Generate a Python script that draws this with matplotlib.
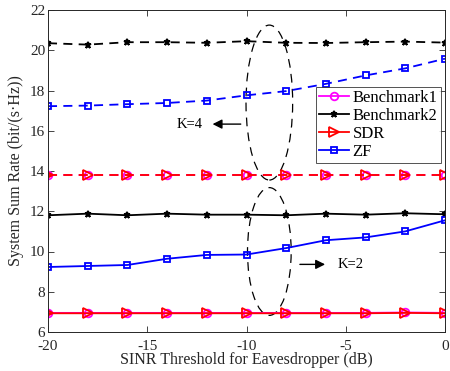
import numpy as np
import matplotlib
matplotlib.use("Agg")
import matplotlib.pyplot as plt
from matplotlib.patches import Ellipse

plt.rcParams['font.family'] = ['Liberation Serif', 'DejaVu Serif']

x = [-20, -18, -16, -14, -12, -10, -8, -6, -4, -2, 0]

# K=4 (dashed)
bench1_k4 = [13.8, 13.8, 13.8, 13.8, 13.8, 13.8, 13.8, 13.8, 13.8, 13.8, 13.8]
bench2_k4 = [20.35, 20.28, 20.4, 20.4, 20.37, 20.45, 20.37, 20.36, 20.4, 20.43, 20.38]
sdr_k4 = [13.8, 13.8, 13.8, 13.8, 13.8, 13.8, 13.8, 13.8, 13.8, 13.8, 13.8]
zf_k4 = [17.22, 17.25, 17.32, 17.38, 17.5, 17.76, 17.97, 18.33, 18.75, 19.1, 19.58]

# K=2 (solid)
bench1_k2 = [6.95, 6.95, 6.95, 6.95, 6.95, 6.95, 6.95, 6.95, 6.95, 6.97, 6.95]
bench2_k2 = [11.8, 11.88, 11.8, 11.88, 11.83, 11.83, 11.8, 11.88, 11.83, 11.9, 11.85]
sdr_k2 = [6.93, 6.93, 6.93, 6.93, 6.93, 6.93, 6.93, 6.93, 6.93, 6.95, 6.93]
zf_k2 = [9.23, 9.28, 9.33, 9.64, 9.83, 9.85, 10.17, 10.56, 10.7, 11.0, 11.55]

labels = ['Benchmark1', 'Benchmark2', 'SDR', 'ZF']
colors = ['#ff00ff', 'black', 'red', 'blue']
markers = ['o', '*', '>', 's']

fig = plt.figure(figsize=(4.5, 3.71), dpi=100)
ax = fig.add_axes([48/450, 1-332/371, 397/450, 322/371])

dash = (0, (5, 3.5))
lw = 1.3
ms = {'o': 5.5, '*': 5.0, '>': 6.5, 's': 5}

series_k4 = [bench1_k4, bench2_k4, sdr_k4, zf_k4]
series_k2 = [bench1_k2, bench2_k2, sdr_k2, zf_k2]

handles = []
for ys, c, m, lab in zip(series_k2, colors, markers, labels):
    mfc = c if m == '*' else 'none'
    h, = ax.plot(x, ys, color=c, marker=m, markersize=ms[m], markerfacecolor=mfc,
                 markeredgewidth=1.3, linewidth=lw, label=lab)
    handles.append(h)
for ys, c, m in zip(series_k4, colors, markers):
    mfc = c if m == '*' else 'none'
    ax.plot(x, ys, color=c, marker=m, markersize=ms[m], markerfacecolor=mfc,
            markeredgewidth=1.3, linewidth=lw, linestyle=dash)

ax.add_patch(Ellipse((-8.85, 17.4), 2.35, 7.7, fill=False, edgecolor='black',
                     linestyle=(0, (7, 5)), linewidth=0.9))
ax.add_patch(Ellipse((-8.85, 10.0), 2.2, 6.35, fill=False, edgecolor='black',
                     linestyle=(0, (7, 5)), linewidth=0.9))

ax.annotate('', xy=(-11.85, 16.33), xytext=(-10.15, 16.33),
            arrowprops=dict(arrowstyle='-|>', color='black', lw=1.0, mutation_scale=14))
ax.text(-12.85, 16.33, 'K=4', ha='center', va='center', fontsize=10.5)
ax.annotate('', xy=(-5.9, 9.36), xytext=(-7.45, 9.36),
            arrowprops=dict(arrowstyle='-|>', color='black', lw=1.0, mutation_scale=14))
ax.text(-5.4, 9.36, 'K=2', ha='left', va='center', fontsize=10.5)

ax.set_xlim(-20, 0)
ax.set_ylim(6, 22)
ax.set_xticks([-20, -15, -10, -5, 0])
ax.set_xticklabels(['-20', '-15', '-10', '-5', '0'])
ax.set_yticks(range(6, 23, 2))
ax.tick_params(direction='in', labelsize=11, top=True, right=True, length=4, width=0.6,
               colors='#262626')
ax.tick_params(axis='x', pad=6)
ax.tick_params(axis='y', pad=2)
for s in ax.spines.values():
    s.set_linewidth(0.7)
    s.set_color('#262626')

ax.set_xlabel('SINR Threshold for Eavesdropper (dB)', fontsize=11.5, color='#262626', labelpad=-1)
ax.set_ylabel('System Sum Rate (bit/(s·Hz))', fontsize=11.5, color='#262626', labelpad=4)

leg = ax.legend(handles=handles, loc='upper left', bbox_to_anchor=(0.675, 0.762),
                fontsize=12, frameon=True, fancybox=False, edgecolor='#262626',
                borderpad=0.2, labelspacing=0.12, handlelength=1.8, handletextpad=0.2,
                borderaxespad=0)
leg.get_frame().set_linewidth(0.7)

fig.savefig('out.png', dpi=100)
